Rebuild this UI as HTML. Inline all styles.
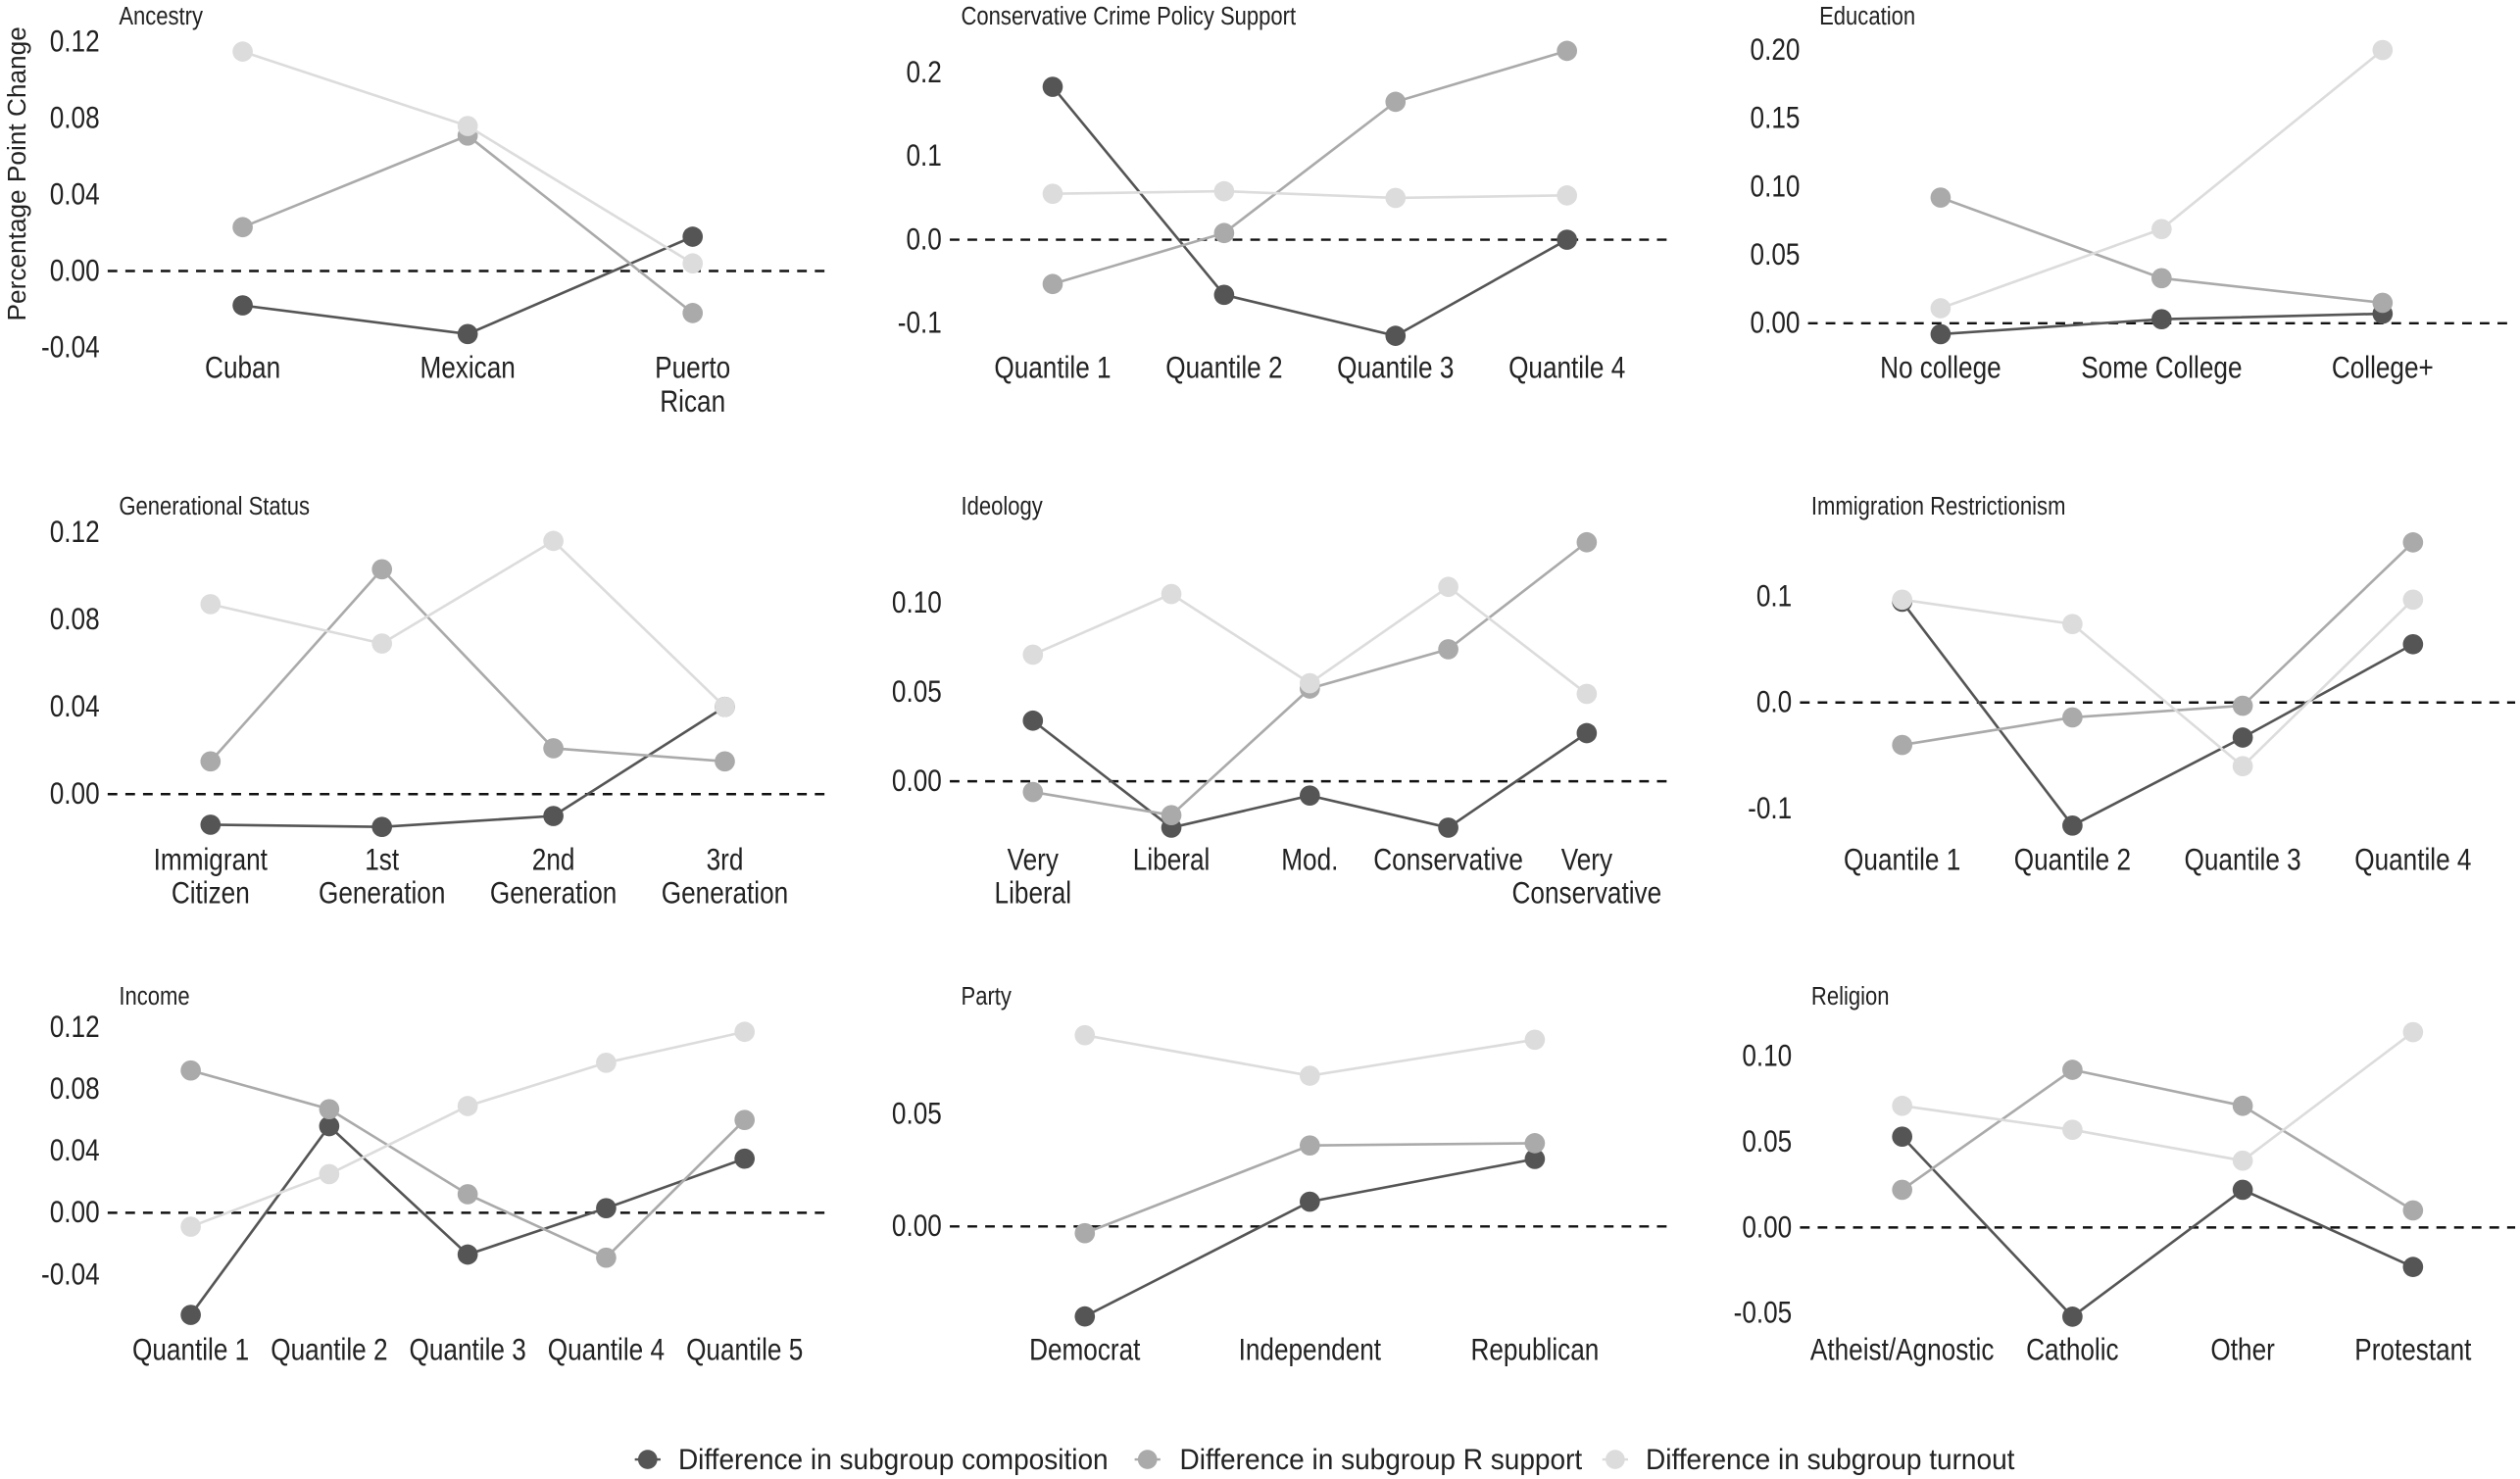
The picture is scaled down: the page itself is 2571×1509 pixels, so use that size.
<!DOCTYPE html>
<html><head><meta charset="utf-8"><style>
html,body{margin:0;padding:0;background:#fff}
svg{display:block}
text{font-family:"Liberation Sans Narrow","Liberation Sans",sans-serif}
</style></head><body>
<svg id="chart" width="2571" height="1509" viewBox="0 0 1568 920" xmlns="http://www.w3.org/2000/svg">
<text transform="translate(16,108) rotate(-90)" text-anchor="middle" font-size="16" fill="#222">Percentage Point Change</text>
<g id="legend">
 <g><line x1="395" y1="908" x2="411" y2="908" stroke="#555" stroke-width="1.5"/><circle cx="403" cy="908" r="6" fill="#555"/><text transform="translate(422,914) scale(0.95,1)" font-size="18" fill="#222">Difference in subgroup composition</text></g>
 <g><line x1="706" y1="908" x2="722" y2="908" stroke="#aaa" stroke-width="1.5"/><circle cx="714" cy="908" r="6" fill="#aaa"/><text transform="translate(734,914) scale(0.95,1)" font-size="18" fill="#222">Difference in subgroup R support</text></g>
 <g><line x1="997" y1="908" x2="1013" y2="908" stroke="#dcdcdc" stroke-width="1.5"/><circle cx="1005" cy="908" r="6" fill="#dcdcdc"/><text transform="translate(1024,914) scale(0.95,1)" font-size="18" fill="#222">Difference in subgroup turnout</text></g>
</g>
</svg>
<script>
// Panel titles
const titles = ["Ancestry","Conservative Crime Policy Support","Education","Generational Status","Ideology","Immigration Restrictionism","Income","Party","Religion"];
// Categories per panel
const categories = [
 ["Cuban","Mexican","Puerto\nRican"],
 ["Quantile 1","Quantile 2","Quantile 3","Quantile 4"],
 ["No college","Some College","College+"],
 ["Immigrant\nCitizen","1st\nGeneration","2nd\nGeneration","3rd\nGeneration"],
 ["Very\nLiberal","Liberal","Mod.","Conservative","Very\nConservative"],
 ["Quantile 1","Quantile 2","Quantile 3","Quantile 4"],
 ["Quantile 1","Quantile 2","Quantile 3","Quantile 4","Quantile 5"],
 ["Democrat","Independent","Republican"],
 ["Atheist/Agnostic","Catholic","Other","Protestant"]
];
// Series values
const composition = [
 [-0.018,-0.033,0.018],
 [0.183,-0.066,-0.115,0.0],
 [-0.008,0.003,0.007],
 [-0.014,-0.015,-0.010,0.040],
 [0.034,-0.026,-0.008,-0.026,0.027],
 [0.095,-0.116,-0.033,0.055],
 [-0.066,0.056,-0.027,0.003,0.035],
 [-0.040,0.011,0.030],
 [0.053,-0.052,0.022,-0.023]
];
const rSupport = [
 [0.023,0.071,-0.022],
 [-0.053,0.008,0.165,0.226],
 [0.092,0.033,0.015],
 [0.015,0.103,0.021,0.015],
 [-0.006,-0.019,0.052,0.074,0.134],
 [-0.040,-0.014,-0.003,0.151],
 [0.092,0.067,0.012,-0.029,0.060],
 [-0.003,0.036,0.037],
 [0.022,0.092,0.071,0.010]
];
const turnout = [
 [0.115,0.076,0.004],
 [0.055,0.058,0.050,0.053],
 [0.011,0.069,0.200],
 [0.087,0.069,0.116,0.040],
 [0.071,0.105,0.055,0.109,0.049],
 [0.097,0.074,-0.060,0.097],
 [-0.009,0.025,0.069,0.097,0.117],
 [0.085,0.067,0.083],
 [0.071,0.057,0.039,0.114]
];
// Tick values and labels
const tickValues = [
 [0.12,0.08,0.04,0,-0.04],
 [0.2,0.1,0,-0.1],
 [0.2,0.15,0.1,0.05,0],
 [0.12,0.08,0.04,0],
 [0.1,0.05,0],
 [0.1,0,-0.1],
 [0.12,0.08,0.04,0,-0.04],
 [0.05,0],
 [0.1,0.05,0,-0.05]
];
const tickLabels = [
 ["0.12","0.08","0.04","0.00","-0.04"],
 ["0.2","0.1","0.0","-0.1"],
 ["0.20","0.15","0.10","0.05","0.00"],
 ["0.12","0.08","0.04","0.00"],
 ["0.10","0.05","0.00"],
 ["0.1","0.0","-0.1"],
 ["0.12","0.08","0.04","0.00","-0.04"],
 ["0.05","0.00"],
 ["0.10","0.05","0.00","-0.05"]
];
// y-domain per panel
const yDomains = [
 [-0.04,0.12],[-0.1,0.2],[0,0.2],[0,0.12],[0,0.1],[-0.1,0.1],[-0.04,0.12],[0,0.05],[-0.05,0.1]
];
// pixel ranges matching those domains (layout)
const yRanges = [
 [216,26],[201,45],[201,31],[494,331],[486,375],[503,371],[793,639],[763,693],[817,657]
];
// panel left edges (layout)
const panelLeft = [67,591,1125,67,591,1120,67,591,1120];
const panelRight = [515,1039,1565,515,1039,1565,515,1039,1565];

const NS="http://www.w3.org/2000/svg";
const svg=document.getElementById('chart');
function mk(tag,attrs,parent){const e=document.createElementNS(NS,tag);for(const k in attrs)e.setAttribute(k,attrs[k]);(parent||svg).appendChild(e);return e;}
const series=[{d:composition,c:"#555555",n:"composition"},{d:rSupport,c:"#aaaaaa",n:"r-support"},{d:turnout,c:"#dcdcdc",n:"turnout"}];
const SX=0.84;

for(let p=0;p<9;p++){
 const row=Math.floor(p/3);
 const x0=panelLeft[p], x1=panelRight[p], yOff=row*305;
 const g=mk('g',{});
 
 
 const t=mk('text',{transform:`translate(${x0+7},${15+yOff}) scale(${SX},1)`,'font-size':16,fill:'#222'},g);t.textContent=titles[p];
 
 
 const [d0,d1]=yDomains[p],[r0,r1]=yRanges[p];
 const y=v=>r0+(v-d0)/(d1-d0)*(r1-r0);
 const n=categories[p].length;
 const step=(x1-x0)/(n-1+1.2);
 const x=i=>x0+step*(i+0.6);
 tickValues[p].forEach((v,i)=>{
  const tt=mk('text',{transform:`translate(${x0-5},${y(v)+6}) scale(${SX},1)`,'text-anchor':'end','font-size':19,fill:'#222'},g);tt.textContent=tickLabels[p][i];
  
  
 });
 const zl=mk('line',{x1:x0,x2:x1,y1:y(0),y2:y(0),stroke:'#111','stroke-width':1.5,'stroke-dasharray':'6,5'},g);
 
 
 const baseY=(row===0?229:row===1?535:840);
 categories[p].forEach((c,i)=>{
  const lines=c.split("\n");
  lines.forEach((ln,j)=>{
   const tt=mk('text',{transform:`translate(${x(i)},${baseY+6+j*21}) scale(${SX},1)`,'text-anchor':'middle','font-size':19,fill:'#222'},g);tt.textContent=ln;
   
   
  });
 });
 series.forEach(s=>{
  const vals=s.d[p];
  const pts=vals.map((v,i)=>x(i)+','+y(v)).join(' ');
  const pl=mk('polyline',{points:pts,fill:'none',stroke:s.c,'stroke-width':1.6},g);
  
  
  vals.forEach((v,i)=>{
   const c=mk('circle',{cx:x(i),cy:y(v),r:6.3,fill:s.c},g);
   
   
  });
 });
}
</script>
</body></html>
